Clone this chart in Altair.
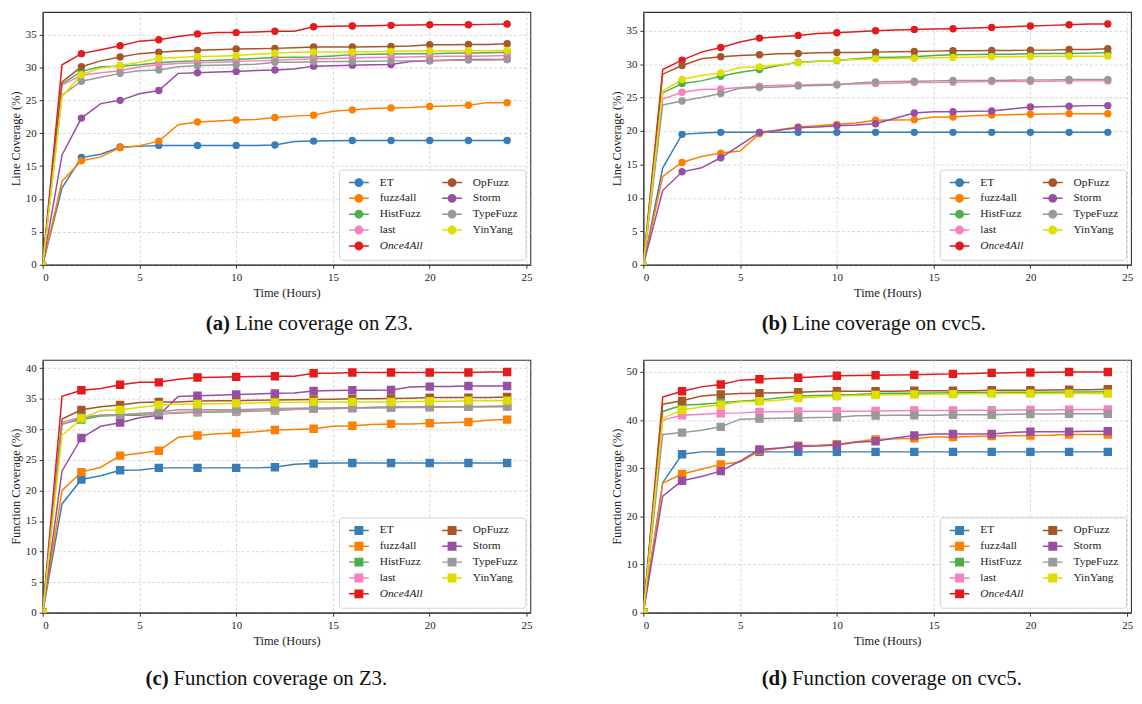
import altair as alt
import pandas as pd

FONT = "Liberation Serif"
HOURS = list(range(25))
TOOLS = ["ET", "fuzz4all", "HistFuzz", "last", "Once4All", "OpFuzz", "Storm", "TypeFuzz", "YinYang"]
TOOL_COLORS = ["#377eb8", "#ff7f00", "#4daf4a", "#f781bf", "#e41a1c", "#a65628", "#984ea3", "#999999", "#dede00"]

# ---------------- (a) Line coverage on Z3 ----------------
a_ET = [0, 11.7, 16.3, 16.8, 17.9, 18.0, 18.15, 18.15, 18.15, 18.15, 18.15, 18.15, 18.2, 18.75, 18.8, 18.85, 18.9, 18.9, 18.9, 18.9, 18.9, 18.9, 18.9, 18.9, 18.9]
a_fuzz4all = [0, 12.7, 15.8, 16.4, 17.8, 18.1, 18.8, 21.3, 21.7, 21.85, 22.0, 22.1, 22.4, 22.6, 22.75, 23.35, 23.55, 23.75, 23.85, 23.9, 24.05, 24.15, 24.25, 24.65, 24.65]
a_HistFuzz = [0, 27.5, 29.4, 30.1, 30.2, 30.4, 30.7, 30.9, 31.0, 31.1, 31.2, 31.35, 31.5, 31.55, 31.6, 31.75, 31.95, 32.0, 32.05, 32.1, 32.1, 32.15, 32.2, 32.25, 32.3]
a_last = [0, 27.3, 28.8, 29.2, 29.5, 30.1, 30.4, 30.6, 30.7, 30.8, 30.9, 31.0, 31.1, 31.2, 31.3, 31.35, 31.45, 31.5, 31.55, 31.6, 31.65, 31.7, 31.7, 31.75, 31.8]
a_Once4All = [0, 30.4, 32.1, 32.7, 33.3, 34.0, 34.2, 34.7, 35.1, 35.3, 35.3, 35.4, 35.5, 35.5, 36.2, 36.25, 36.3, 36.35, 36.4, 36.45, 36.5, 36.5, 36.5, 36.55, 36.6]
a_OpFuzz = [0, 27.8, 30.1, 31.0, 31.6, 32.1, 32.3, 32.5, 32.6, 32.7, 32.8, 32.85, 32.9, 33.0, 33.1, 33.1, 33.1, 33.15, 33.2, 33.25, 33.45, 33.45, 33.5, 33.5, 33.6]
a_Storm = [0, 16.7, 22.3, 24.5, 25.0, 26.0, 26.5, 29.1, 29.2, 29.3, 29.4, 29.55, 29.6, 29.75, 30.2, 30.25, 30.35, 30.4, 30.45, 30.9, 31.0, 31.1, 31.2, 31.2, 31.2]
a_TypeFuzz = [0, 25.8, 27.9, 28.5, 29.1, 29.5, 29.6, 30.1, 30.3, 30.35, 30.4, 30.5, 30.8, 30.8, 30.85, 30.9, 30.9, 30.95, 31.0, 31.0, 31.05, 31.1, 31.15, 31.15, 31.2]
a_YinYang = [0, 25.6, 28.9, 29.9, 30.3, 30.8, 31.4, 31.5, 31.65, 31.7, 31.8, 32.0, 32.15, 32.3, 32.35, 32.35, 32.35, 32.4, 32.45, 32.5, 32.5, 32.5, 32.55, 32.55, 32.6]

# ---------------- (b) Line coverage on cvc5 ----------------
b_ET = [0, 14.5, 19.5, 19.7, 19.8, 19.8, 19.8, 19.8, 19.8, 19.8, 19.8, 19.8, 19.8, 19.8, 19.8, 19.8, 19.8, 19.8, 19.8, 19.8, 19.8, 19.8, 19.8, 19.8, 19.8]
b_fuzz4all = [0, 13.2, 15.3, 16.2, 16.7, 17.0, 19.6, 20.2, 20.6, 20.8, 21.0, 21.2, 21.6, 21.65, 21.7, 22.1, 22.1, 22.3, 22.4, 22.45, 22.5, 22.55, 22.6, 22.6, 22.6]
b_HistFuzz = [0, 25.7, 27.1, 27.5, 28.2, 28.8, 29.2, 29.8, 30.3, 30.45, 30.55, 30.8, 31.0, 31.05, 31.1, 31.3, 31.4, 31.45, 31.5, 31.5, 31.55, 31.6, 31.6, 31.65, 31.7]
b_last = [0, 24.8, 25.8, 26.2, 26.3, 26.5, 26.7, 26.85, 26.9, 26.95, 27.0, 27.05, 27.1, 27.15, 27.25, 27.25, 27.3, 27.35, 27.4, 27.4, 27.4, 27.45, 27.5, 27.5, 27.5]
b_Once4All = [0, 29.2, 30.6, 31.8, 32.5, 33.3, 33.9, 34.1, 34.3, 34.6, 34.7, 34.85, 35.0, 35.1, 35.2, 35.25, 35.3, 35.4, 35.5, 35.6, 35.7, 35.8, 35.9, 36.0, 36.0]
b_OpFuzz = [0, 28.5, 29.8, 30.8, 31.1, 31.3, 31.4, 31.55, 31.6, 31.7, 31.75, 31.75, 31.8, 31.85, 31.9, 31.95, 32.0, 32.0, 32.05, 32.05, 32.1, 32.1, 32.2, 32.2, 32.3]
b_Storm = [0, 11.1, 13.9, 14.5, 16.0, 17.9, 19.8, 20.1, 20.5, 20.6, 20.8, 20.9, 21.1, 21.9, 22.7, 22.9, 22.9, 22.95, 23.0, 23.3, 23.6, 23.65, 23.7, 23.8, 23.8]
b_TypeFuzz = [0, 23.9, 24.5, 25.0, 25.6, 26.4, 26.5, 26.6, 26.75, 26.8, 26.9, 27.2, 27.35, 27.4, 27.45, 27.5, 27.55, 27.55, 27.55, 27.6, 27.65, 27.65, 27.7, 27.7, 27.7]
b_YinYang = [0, 26.0, 27.7, 28.3, 28.7, 29.5, 29.6, 29.9, 30.2, 30.4, 30.6, 30.7, 30.8, 30.85, 30.9, 30.95, 31.0, 31.05, 31.1, 31.1, 31.15, 31.2, 31.2, 31.2, 31.2]

# ---------------- (c) Function coverage on Z3 ----------------
c_ET = [0, 17.8, 21.8, 22.4, 23.3, 23.35, 23.7, 23.7, 23.7, 23.7, 23.7, 23.7, 23.8, 24.3, 24.4, 24.5, 24.5, 24.5, 24.5, 24.5, 24.5, 24.5, 24.5, 24.5, 24.5]
c_fuzz4all = [0, 20.0, 23.0, 23.8, 25.7, 26.1, 26.5, 28.7, 29.0, 29.3, 29.4, 29.6, 29.9, 30.0, 30.1, 30.5, 30.6, 30.8, 30.9, 30.9, 31.0, 31.1, 31.2, 31.5, 31.6]
c_HistFuzz = [0, 30.9, 31.6, 32.2, 32.3, 32.3, 32.5, 32.7, 32.8, 32.85, 32.9, 33.0, 33.1, 33.25, 33.35, 33.4, 33.5, 33.6, 33.65, 33.65, 33.7, 33.7, 33.7, 33.75, 33.8]
c_last = [0, 31.2, 32.0, 32.3, 32.4, 32.5, 32.5, 32.8, 32.9, 33.0, 33.05, 33.1, 33.2, 33.3, 33.35, 33.4, 33.45, 33.5, 33.55, 33.6, 33.6, 33.65, 33.7, 33.7, 33.7]
c_Once4All = [0, 35.4, 36.4, 36.7, 37.3, 37.7, 37.7, 38.2, 38.5, 38.55, 38.6, 38.65, 38.7, 38.7, 39.2, 39.2, 39.3, 39.3, 39.3, 39.3, 39.3, 39.3, 39.3, 39.4, 39.4]
c_OpFuzz = [0, 31.7, 33.2, 33.7, 34.0, 34.4, 34.5, 34.5, 34.65, 34.7, 34.7, 34.75, 34.8, 34.85, 34.9, 34.95, 35.0, 35.0, 35.05, 35.1, 35.2, 35.2, 35.2, 35.2, 35.3]
c_Storm = [0, 23.2, 28.6, 30.5, 31.1, 31.9, 32.3, 35.4, 35.5, 35.6, 35.7, 35.8, 35.9, 35.95, 36.3, 36.35, 36.4, 36.4, 36.45, 36.95, 37.0, 37.0, 37.1, 37.1, 37.1]
c_TypeFuzz = [0, 30.8, 31.9, 32.3, 32.4, 32.6, 32.8, 33.2, 33.2, 33.2, 33.2, 33.3, 33.4, 33.45, 33.5, 33.5, 33.55, 33.6, 33.6, 33.65, 33.65, 33.7, 33.7, 33.75, 33.8]
c_YinYang = [0, 29.0, 31.8, 33.1, 33.2, 33.6, 34.0, 34.1, 34.15, 34.2, 34.25, 34.3, 34.4, 34.45, 34.5, 34.5, 34.5, 34.5, 34.5, 34.55, 34.6, 34.6, 34.7, 34.7, 34.7]

# ---------------- (d) Function coverage on cvc5 ----------------
d_ET = [0, 27.0, 32.9, 33.4, 33.4, 33.4, 33.4, 33.4, 33.4, 33.4, 33.4, 33.4, 33.4, 33.4, 33.4, 33.4, 33.4, 33.4, 33.4, 33.4, 33.4, 33.4, 33.4, 33.4, 33.4]
d_fuzz4all = [0, 26.9, 28.8, 29.8, 30.8, 31.3, 33.6, 34.1, 34.7, 34.8, 35.0, 35.5, 36.0, 36.1, 36.2, 36.5, 36.5, 36.6, 36.7, 36.75, 36.8, 36.85, 37.0, 37.0, 37.0]
d_HistFuzz = [0, 41.8, 43.1, 43.3, 43.6, 43.9, 44.2, 44.6, 45.0, 45.1, 45.2, 45.3, 45.5, 45.6, 45.6, 45.65, 45.7, 45.7, 45.75, 45.8, 45.8, 45.8, 45.85, 45.85, 45.9]
d_last = [0, 40.0, 41.0, 41.2, 41.4, 41.5, 41.7, 41.75, 41.8, 41.85, 41.85, 41.85, 41.9, 41.95, 42.0, 42.0, 42.0, 42.05, 42.05, 42.1, 42.1, 42.1, 42.15, 42.2, 42.2]
d_Once4All = [0, 44.8, 46.0, 46.9, 47.4, 48.3, 48.5, 48.7, 48.8, 49.0, 49.2, 49.25, 49.3, 49.35, 49.4, 49.5, 49.6, 49.7, 49.8, 49.85, 49.9, 49.95, 50.0, 50.0, 50.0]
d_OpFuzz = [0, 43.3, 44.0, 45.0, 45.3, 45.5, 45.6, 45.7, 45.8, 45.95, 46.0, 46.0, 46.0, 46.0, 46.1, 46.1, 46.1, 46.1, 46.2, 46.2, 46.2, 46.25, 46.3, 46.3, 46.4]
d_Storm = [0, 24.2, 27.4, 28.3, 29.4, 31.5, 33.9, 34.2, 34.5, 34.6, 34.8, 35.4, 35.6, 36.3, 36.8, 37.1, 37.1, 37.1, 37.1, 37.4, 37.6, 37.6, 37.6, 37.7, 37.7]
d_TypeFuzz = [0, 37.0, 37.4, 37.9, 38.6, 40.2, 40.3, 40.4, 40.5, 40.55, 40.6, 40.9, 40.95, 41.0, 41.0, 41.0, 41.1, 41.1, 41.1, 41.2, 41.25, 41.25, 41.3, 41.3, 41.3]
d_YinYang = [0, 40.4, 42.1, 42.7, 43.2, 43.8, 43.9, 44.1, 44.6, 44.8, 45.0, 45.1, 45.2, 45.25, 45.3, 45.35, 45.4, 45.45, 45.5, 45.5, 45.5, 45.5, 45.5, 45.5, 45.5]

PANEL_SERIES = [
    [a_ET, a_fuzz4all, a_HistFuzz, a_last, a_Once4All, a_OpFuzz, a_Storm, a_TypeFuzz, a_YinYang],
    [b_ET, b_fuzz4all, b_HistFuzz, b_last, b_Once4All, b_OpFuzz, b_Storm, b_TypeFuzz, b_YinYang],
    [c_ET, c_fuzz4all, c_HistFuzz, c_last, c_Once4All, c_OpFuzz, c_Storm, c_TypeFuzz, c_YinYang],
    [d_ET, d_fuzz4all, d_HistFuzz, d_last, d_Once4All, d_OpFuzz, d_Storm, d_TypeFuzz, d_YinYang],
]
Y_TITLES = ["Line Coverage (%)", "Line Coverage (%)", "Function Coverage (%)", "Function Coverage (%)"]
Y_TICKS = [[0, 5, 10, 15, 20, 25, 30, 35], [0, 5, 10, 15, 20, 25, 30, 35],
           [0, 5, 10, 15, 20, 25, 30, 35, 40], [0, 10, 20, 30, 40, 50]]
X_TICKS = [0, 5, 10, 15, 20, 25]
X_TITLE = "Time (Hours)"
CAPTION_TAGS = ["(a)", "(b)", "(c)", "(d)"]
CAPTION_TEXTS = ["Line coverage on Z3.", "Line coverage on cvc5.", "Function coverage on Z3.", "Function coverage on cvc5."]
CAPTION_X = [189, 145, 127, 145]
CAPTION_DY = [60, 60, 67, 67]

W, H = 492, 255

CIRCLE_SYM = "M-1,0L3,0M1.75,0A0.75,0.75,0,1,1,0.25,0A0.75,0.75,0,1,1,1.75,0Z"
SQUARE_SYM = "M-1,0L3,0M0.25,-0.75L1.75,-0.75L1.75,0.75L0.25,0.75Z"


def make_df(series):
    rows = []
    for tool, vals in zip(TOOLS, series):
        for h, v in zip(HOURS, vals):
            rows.append({"hour": h, "value": v, "tool": tool})
    return pd.DataFrame(rows)


def panel(i, shape, sym):
    df = make_df(PANEL_SERIES[i])
    ymax = max(max(s) for s in PANEL_SERIES[i]) * 1.05
    axis_font = dict(labelFont=FONT, titleFont=FONT, labelFontSize=11, titleFontSize=12.5,
                     titleFontWeight="normal", labelColor="#1a1a1a", titleColor="#1a1a1a")
    x = alt.X("hour:Q", scale=alt.Scale(domain=[0, 25.2], nice=False, zero=False),
              axis=alt.Axis(title=X_TITLE, values=X_TICKS, format="d", titlePadding=5, **axis_font))
    y = alt.Y("value:Q", scale=alt.Scale(domain=[0, ymax], nice=False, zero=False),
              axis=alt.Axis(title=Y_TITLES[i], values=Y_TICKS[i], format="d", titlePadding=3, **axis_font))
    cscale = alt.Scale(domain=TOOLS, range=TOOL_COLORS)
    leg = alt.Legend(
        title=None, orient="bottom-right", columns=2, direction="vertical", offset=5,
        symbolType=sym, symbolSize=100, symbolStrokeWidth=1.5, symbolOpacity=1,
        labelFont=FONT, labelFontSize=11.5, labelColor="#1a1a1a", labelOffset=20,
        labelFontStyle={"expr": "datum.label == 'Once4All' ? 'italic' : 'normal'"},
        fillColor="rgba(255,255,255,0.85)", strokeColor="#d0d0d0", cornerRadius=3,
        padding=7, rowPadding=2, columnPadding=16, symbolOffset=2,
    )
    color = alt.Color("tool:N", scale=cscale, legend=leg)
    lines = alt.Chart(df).mark_line(strokeWidth=1.5, clip=True).encode(x=x, y=y, color=color)
    pts = alt.Chart(df).transform_filter("datum.hour % 2 == 0").mark_point(
        shape=shape, filled=True, size=(56 if shape == "circle" else 72), opacity=1,
        clip=True).encode(x=x, y=y, color=color)
    cap_tag = alt.Chart(pd.DataFrame({"t": [CAPTION_TAGS[i]]})).mark_text(
        font=FONT, fontSize=21, fontWeight="bold", align="right", baseline="middle",
        color="#111").encode(text="t:N", x=alt.value(CAPTION_X[i]), y=alt.value(H + CAPTION_DY[i]))
    cap_txt = alt.Chart(pd.DataFrame({"t": [CAPTION_TEXTS[i]]})).mark_text(
        font=FONT, fontSize=21, align="left", baseline="middle",
        color="#111").encode(text="t:N", x=alt.value(CAPTION_X[i] + 5), y=alt.value(H + CAPTION_DY[i]))
    return alt.layer(lines, pts, cap_tag, cap_txt).properties(width=W, height=H)


top = alt.hconcat(panel(0, "circle", CIRCLE_SYM), panel(1, "circle", CIRCLE_SYM), spacing=76
                  ).resolve_scale(color="independent").resolve_legend(color="independent")
bottom = alt.hconcat(panel(2, "square", SQUARE_SYM), panel(3, "square", SQUARE_SYM), spacing=76
                     ).resolve_scale(color="independent").resolve_legend(color="independent")
chart = alt.vconcat(top, bottom, spacing=24).resolve_scale(color="independent").resolve_legend(
    color="independent").properties(
    padding={"left": 0, "top": 0, "right": 0, "bottom": 0}
).configure_view(
    stroke="#333333", strokeWidth=1.1
).configure_axis(
    domainColor="#333333", domainWidth=1.1, tickColor="#333333", tickSize=3.5,
    gridColor="#cfcfcf", gridDash=[3, 2], gridWidth=0.8, labelPadding=3,
)

chart.save("out.html", embed_options={"renderer": "svg", "actions": False})
